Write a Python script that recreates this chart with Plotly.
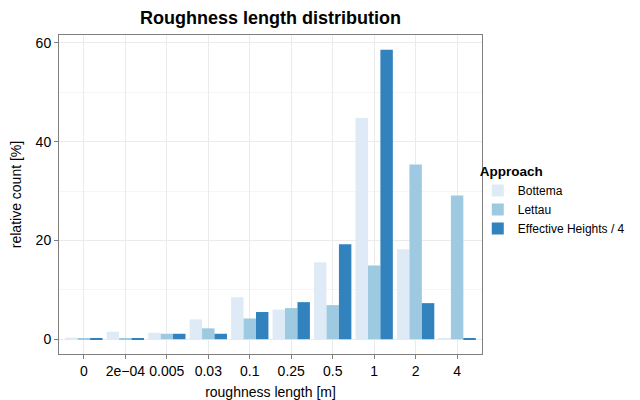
import plotly.graph_objects as go

categories = ["0", "2e\u221204", "0.005", "0.03", "0.1", "0.25", "0.5", "1", "2", "4"]
bottema = [0.3, 1.5, 1.3, 4.0, 8.5, 6.0, 15.6, 44.8, 18.2, 0.05]
lettau = [0.2, 0.1, 1.1, 2.2, 4.2, 6.3, 6.9, 14.9, 35.4, 29.1]
eff_heights = [0.2, 0.1, 1.1, 1.1, 5.5, 7.5, 19.2, 58.6, 7.3, 0.1]

series_names = ["Bottema", "Lettau", "Effective Heights / 4"]
colors = ["#DEEBF7", "#9ECAE1", "#3182BD"]

fig = go.Figure()
for name, vals, col in zip(series_names, [bottema, lettau, eff_heights], colors):
    fig.add_trace(go.Bar(x=categories, y=vals, name=name, marker_color=col,
                         marker_line_width=0))

# the page places the figure 8px from the top-left corner (default body margin)
W, H = 632, 392
L, R, T, B = 51, 640 - 482, 27, 400 - 354
font = "Liberation Sans, Arial, sans-serif"
fig.update_layout(
    width=W, height=H,
    margin=dict(l=L, r=R, t=T, b=B, autoexpand=False),
    paper_bgcolor="white", plot_bgcolor="white",
    barmode="group", bargap=0.1, bargroupgap=0,
    font=dict(family=font, size=14, color="black"),
    title=dict(text="<b>Roughness length distribution</b>",
               x=0.5, xref="paper",
               xanchor="center", y=1 - 10 / H, yanchor="middle",
               yref="container", automargin=False,
               font=dict(size=18, color="black")),
    legend=dict(title=dict(text="<b>Approach</b>", font=dict(size=13.5)),
                x=0.99, xanchor="left", y=0.48, yanchor="middle",
                font=dict(size=12), tracegroupgap=0, itemwidth=30,
                borderwidth=0, bgcolor="rgba(0,0,0,0)"),
    showlegend=True,
)
fig.update_xaxes(
    title=dict(text="roughness length [m]", font=dict(size=14), standoff=10),
    automargin=False, range=[-0.6, 9.6],
    showline=True, linecolor="#7F7F7F", linewidth=1, mirror=True,
    showgrid=True, gridcolor="#EBEBEB", gridwidth=1,
    ticks="outside", ticklen=4, tickcolor="#7F7F7F",
    tickfont=dict(size=14, color="black"),
)
fig.update_yaxes(
    title=dict(text="relative count [%]", font=dict(size=14), standoff=10),
    automargin=False,
    range=[-3.0, 61.6], tickvals=[0, 20, 40, 60],
    showline=True, linecolor="#7F7F7F", linewidth=1, mirror=True,
    showgrid=True, gridcolor="#EBEBEB", gridwidth=1,
    minor=dict(tickvals=[10, 30, 50], showgrid=True, gridcolor="#F5F5F5", ticks=""),
    ticks="outside", ticklen=4, tickcolor="#7F7F7F",
    zeroline=False,
    tickfont=dict(size=14, color="black"),
)

fig.write_html("out.html")
